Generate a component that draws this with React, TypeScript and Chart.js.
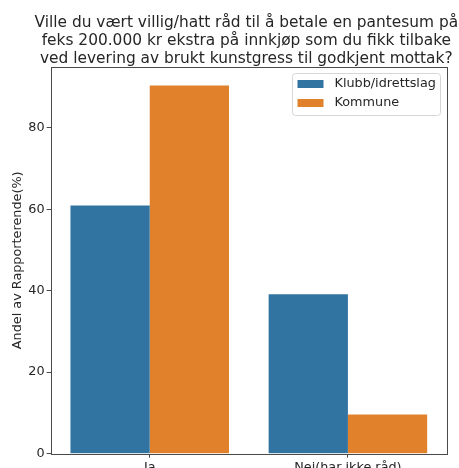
import React, { useEffect, useRef } from "react";
import { Chart, registerables } from "chart.js";

Chart.register(...registerables);

const categories = ["Ja", "Nei(har ikke råd)"];
const seriesNames = ["Klubb/idrettslag", "Kommune"];
const klubbValues = [60.9, 39.1];
const kommuneValues = [90.4, 9.6];
const yTicks = [0, 20, 40, 60, 80];
const titleLines = [
  "Ville du vært villig/hatt råd til å betale en pantesum på",
  "feks 200.000 kr ekstra på innkjøp som du fikk tilbake",
  "ved levering av brukt kunstgress til godkjent mottak?",
];
const yLabel = "Andel av Rapporterende(%)";

const COLORS = ["#3274a1", "#e1812c"];
const FONT = "'DejaVu Sans', sans-serif";
const TEXT = "#262626";
const SPINE = "#4a4a4a";

const framePlugin = {
  id: "frame",
  afterDraw(chart: any) {
    const { ctx, chartArea } = chart;
    const { left, right, top, bottom } = chartArea;
    ctx.save();
    ctx.strokeStyle = SPINE;
    ctx.lineWidth = 1;
    ctx.strokeRect(Math.round(left) + 0.5, Math.round(top) + 0.5, Math.round(right - left), Math.round(bottom - top));

    // title, centred over the axes
    ctx.font = `15.4px ${FONT}`;
    ctx.fillStyle = TEXT;
    ctx.textAlign = "center";
    ctx.textBaseline = "middle";
    const cx = (left + right) / 2 - 2.5;
    titleLines.forEach((line, i) => {
      ctx.fillText(line, cx, top - 44.5 + i * 18);
    });

    // legend
    const fs = 12.8;
    ctx.font = `${fs}px ${FONT}`;
    const textW = Math.max(...seriesNames.map((s) => ctx.measureText(s).width));
    const boxRight = Math.round(right) - 6.5;
    const boxTop = Math.round(top) + 6.5;
    const boxW = 5 + 26 + 11 + textW + 5;
    const boxH = 42;
    const boxLeft = Math.round(boxRight - boxW) + 0.5;
    const r = 3;
    ctx.beginPath();
    ctx.moveTo(boxLeft + r, boxTop);
    ctx.lineTo(boxRight - r, boxTop);
    ctx.arcTo(boxRight, boxTop, boxRight, boxTop + r, r);
    ctx.lineTo(boxRight, boxTop + boxH - r);
    ctx.arcTo(boxRight, boxTop + boxH, boxRight - r, boxTop + boxH, r);
    ctx.lineTo(boxLeft + r, boxTop + boxH);
    ctx.arcTo(boxLeft, boxTop + boxH, boxLeft, boxTop + boxH - r, r);
    ctx.lineTo(boxLeft, boxTop + r);
    ctx.arcTo(boxLeft, boxTop, boxLeft + r, boxTop, r);
    ctx.closePath();
    ctx.fillStyle = "rgba(255,255,255,0.8)";
    ctx.fill();
    ctx.strokeStyle = "#d6d6d6";
    ctx.stroke();
    seriesNames.forEach((name, i) => {
      const cy = boxTop + 10.5 + i * 19;
      ctx.fillStyle = COLORS[i];
      ctx.fillRect(boxLeft + 5, cy - 4, 26, 8);
      ctx.fillStyle = TEXT;
      ctx.textBaseline = "middle";
      ctx.textAlign = "left";
      ctx.fillText(name, boxLeft + 5 + 26 + 11, cy);
    });
    ctx.restore();
  },
};

export default function App() {
  const ref = useRef<HTMLCanvasElement>(null);
  useEffect(() => {
    if (!ref.current) return;
    const yMax = Math.max(...klubbValues, ...kommuneValues) * 1.05;
    const chart = new Chart(ref.current, {
      type: "bar",
      data: {
        labels: categories,
        datasets: [
          { label: seriesNames[0], data: klubbValues, backgroundColor: COLORS[0], borderWidth: 0 },
          { label: seriesNames[1], data: kommuneValues, backgroundColor: COLORS[1], borderWidth: 0 },
        ],
      },
      options: {
        responsive: false,
        animation: false,
        devicePixelRatio: 1,
        layout: { padding: { left: 2, right: 12, top: 67, bottom: 3 } },
        datasets: { bar: { categoryPercentage: 0.8, barPercentage: 1.0 } },
        plugins: {
          legend: { display: false },
          tooltip: { enabled: false },
          title: { display: false },
        },
        scales: {
          x: {
            offset: true,
            grid: { display: true, offset: false, drawOnChartArea: false, tickLength: 4, color: SPINE },
            border: { display: false },
            ticks: { color: TEXT, font: { family: FONT, size: 12.8 }, padding: 2, maxRotation: 0 },
          },
          y: {
            min: 0,
            max: yMax,
            afterBuildTicks: (axis: any) => {
              axis.ticks = yTicks.map((v) => ({ value: v }));
            },
            grid: { display: true, drawOnChartArea: false, tickLength: 4, color: SPINE },
            border: { display: false },
            ticks: { color: TEXT, font: { family: FONT, size: 12.8 }, padding: 2, includeBounds: false },
            title: {
              display: true,
              text: yLabel,
              color: TEXT,
              font: { family: FONT, size: 12.8 },
              padding: { top: 8, bottom: 1 },
            },
          },
        },
      },
      plugins: [framePlugin],
    });
    return () => chart.destroy();
  }, []);
  return (
    <div style={{ position: "fixed", left: 0, top: 0, width: 459, height: 480, background: "#fff" }}>
      <canvas ref={ref} width={459} height={480} style={{ display: "block", width: 459, height: 480 }} />
    </div>
  );
}
